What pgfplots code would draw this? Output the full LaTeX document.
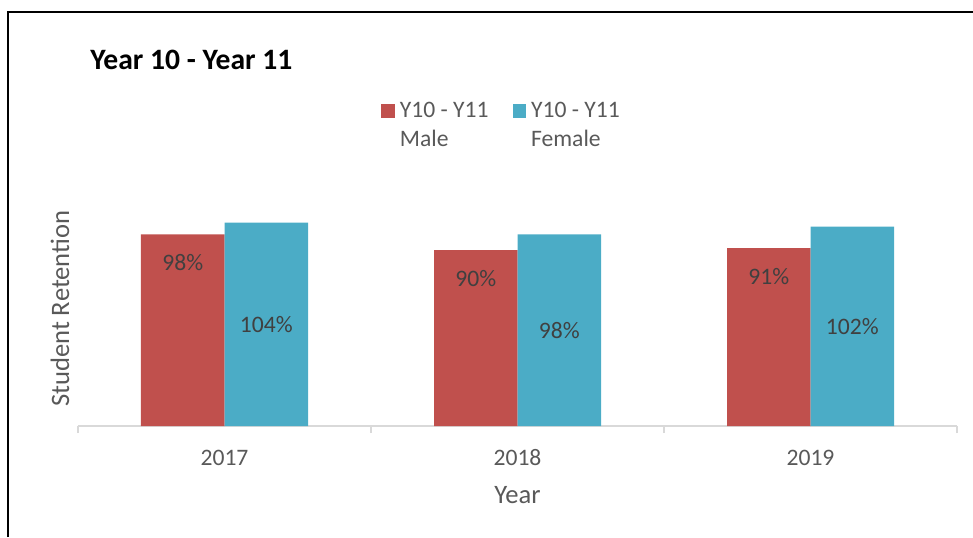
\documentclass[border=0pt]{standalone}
\usepackage{pgfplots}
\pgfplotsset{compat=1.18}
\usepackage{fontspec}
\setmainfont{Carlito}
\definecolor{cmale}{HTML}{C0504D}
\definecolor{cfemale}{HTML}{4BACC6}
\definecolor{txt}{HTML}{595959}
\definecolor{lbl}{HTML}{404040}
\definecolor{axgray}{HTML}{D9D9D9}
\newcommand{\fs}{\fontsize{11.8}{14.5}\selectfont}
\begin{document}
\begin{tikzpicture}
\useasboundingbox (0,0) rectangle (486.5pt,268.5pt);
\draw[line width=0.8pt] (4pt,0) -- (4pt,262.5pt) -- (486.5pt,262.5pt);
\node[anchor=west, font=\fontsize{14.8}{17}\selectfont\bfseries, inner sep=0pt] at (45pt,238.5pt) {Year 10 - Year 11};
\begin{axis}[
  at={(39pt,55.5pt)}, anchor=south west,
  scale only axis, width=439.5pt, y=0.9775pt,
  xmin=-0.5, xmax=2.5, ymin=0, ymax=120,
  ybar=0pt, bar width=0.285,
  /pgf/number format/assume math mode=true,
  axis x line*=bottom, axis y line*=left,
  y axis line style={draw=none}, ytick=\empty,
  x axis line style={axgray, line width=0.6pt, -},
  xtick={0,1,2}, xticklabels={2017,2018,2019},
  major tick length=0pt,
  minor xtick={-0.5,0.5,1.5,2.5}, minor tick length=3.5pt, tick align=outside,
  minor tick style={axgray, line width=0.6pt},
  xticklabel style={font=\fs, text=txt, anchor=center, yshift=-16pt},
  xlabel={Year}, ylabel={Student Retention},
  xlabel style={at={([yshift=-34.5pt]axis description cs:0.5,0)}, anchor=center, font=\fontsize{13.3}{16}\selectfont, text=txt},
  ylabel style={at={([xshift=-9pt]axis description cs:0,0.5)}, anchor=center, rotate=0, font=\fontsize{13.3}{16}\selectfont, text=txt},
  legend image code/.code={\fill[#1,/tikz/.cd] (0pt,0pt) rectangle (6.75pt,6.75pt);},
  legend style={at={([yshift=4pt]axis description cs:0.3447,1.385)}, anchor=north west, draw=none, fill=none, inner sep=0pt,
     font=\fs, text=txt, legend columns=2,
     cells={anchor=base west, inner sep=0pt},
     /tikz/every odd column/.append style={column sep=0.5pt},
     /tikz/every even column/.append style={column sep=10pt}},
]
\addplot[fill=cmale, draw=none,
  nodes near coords={\pgfmathprintnumber{\pgfplotspointmeta}\%},
  every node near coord/.append style={anchor=center, yshift=-14pt, text=lbl, font=\fs}]
  coordinates {(0,98) (1,90) (2,91)};
\addplot[fill=cfemale, draw=none,
  visualization depends on={rawy \as \rawy},
  nodes near coords={\pgfmathprintnumber{\pgfplotspointmeta}\%},
  every node near coord/.append style={anchor=center, yshift={-0.5*\rawy*0.9775pt}, text=lbl, font=\fs}]
  coordinates {(0,104) (1,98) (2,102)};
\legend{{\begin{tabular}[t]{@{}l@{}}Y10 - Y11\\Male\end{tabular}},{\begin{tabular}[t]{@{}l@{}}Y10 - Y11\\Female\end{tabular}}}
\end{axis}
\end{tikzpicture}
\end{document}
